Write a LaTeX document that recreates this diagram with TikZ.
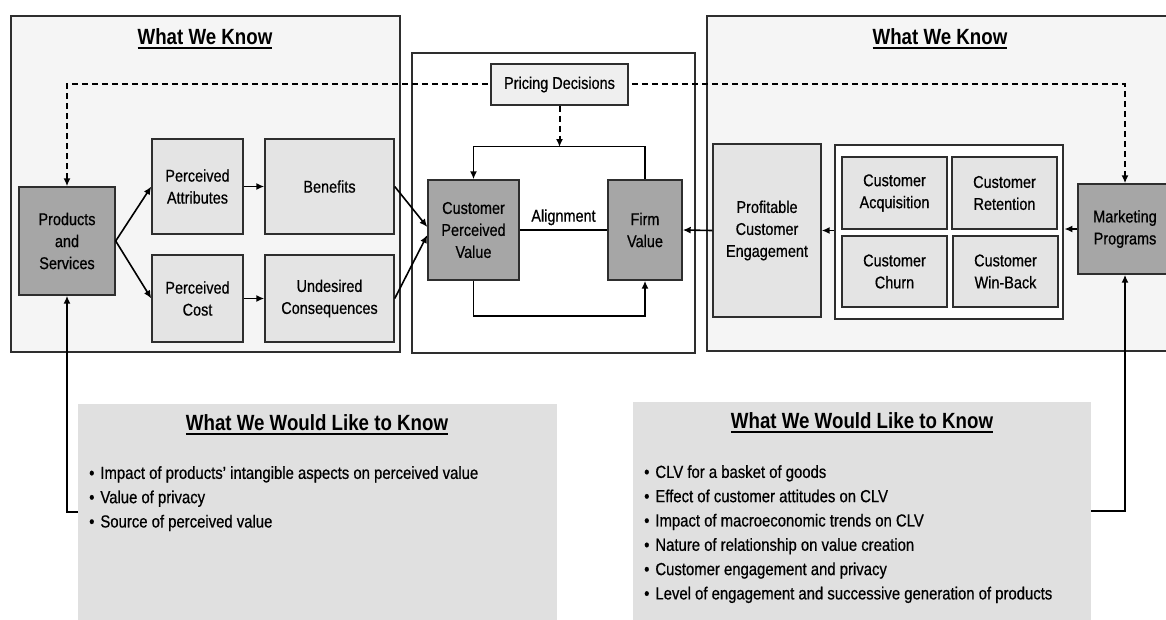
\documentclass[tikz,border=0pt]{standalone}
\usepackage{fontspec}
\setmainfont{Liberation Sans}[FakeStretch=0.85, UprightFeatures={FakeBold=0.6}]
\usetikzlibrary{arrows.meta}
\definecolor{panelfill}{HTML}{F5F5F5}
\definecolor{lightbox}{HTML}{E4E4E4}
\definecolor{darkbox}{HTML}{A6A6A6}
\definecolor{wishfill}{HTML}{E0E0E0}
\definecolor{edge}{HTML}{2E2E2E}
% bold heading with a heavy underline
\newsavebox\headbox
\newcommand\undl[1]{\sbox\headbox{#1}\rlap{\raisebox{-4pt}{\rule{\wd\headbox}{1.8pt}}}\usebox\headbox}
\begin{document}
\begin{tikzpicture}[x=1pt,y=-1pt,
  >={Latex[length=8pt,width=7pt]},
  panel/.style={draw=edge, line width=1.4pt, fill=panelfill, inner sep=0pt},
  frame/.style={draw=edge, line width=2.8pt, fill=white, inner sep=0pt},
  box/.style={draw=edge, line width=1.4pt, align=center, inner sep=0pt,
    font=\fontsize{17}{22}\selectfont},
  lightnode/.style={box, fill=lightbox},
  darknode/.style={box, fill=darkbox},
  wish/.style={fill=wishfill, inner sep=0pt},
  heading/.style={inner sep=0pt, font=\fontsize{22}{26}\selectfont\bfseries},
  listtext/.style={inner sep=0pt, align=left, font=\fontsize{17.5}{24.3}\selectfont},
  arr/.style={->, line width=1.6pt},
  dasharr/.style={line width=2pt, dash pattern=on 6pt off 4pt}
]
\useasboundingbox (0,0) rectangle (1166,619);

% containers
\node[panel, minimum width=389, minimum height=336] (knowL) at (205.5,184) {};
\node[panel, minimum width=468, minimum height=335] (knowR) at (941,183.5) {};
\node[frame, minimum width=283, minimum height=300] (core) at (553.5,203) {};
\node[wish, minimum width=479, minimum height=221] (wishL) at (317.5,514.5) {};
\node[wish, minimum width=458, minimum height=223] (wishR) at (862,513.5) {};

\node[heading] (hL) at (205,39) {\undl{What We Know}};
\node[heading] (hR) at (940,39) {\undl{What We Know}};
\node[heading] (hWL) at (317,425) {\undl{What We Would Like to Know}};
\node[heading] (hWR) at (862,423) {\undl{What We Would Like to Know}};

% nodes
\node[darknode, minimum width=96, minimum height=108] (ps) at (67,241) {Products\\and\\Services};
\node[lightnode, minimum width=91, minimum height=95] (pa) at (197.5,186.5) {Perceived\\Attributes};
\node[lightnode, minimum width=129, minimum height=95] (ben) at (329.5,186.5) {Benefits};
\node[lightnode, minimum width=91, minimum height=87] (pc) at (197.5,298.5) {Perceived\\Cost};
\node[lightnode, minimum width=129, minimum height=87] (uc) at (329.5,298.5) {Undesired\\Consequences};

\node[darknode, minimum width=91, minimum height=100] (cpv) at (473.5,230) {Customer\\Perceived\\Value};
\node[darknode, minimum width=74, minimum height=100] (fv) at (645,230) {Firm\\Value};

\node[lightnode, minimum width=108, minimum height=173] (pce) at (767,230.5) {Profitable\\Customer\\Engagement};
\node[frame, minimum width=228, minimum height=174] (grp) at (949,232) {};
\node[lightnode, minimum width=105, minimum height=72] (acq) at (894.5,193) {Customer\\Acquisition};
\node[lightnode, minimum width=105, minimum height=72] (ret) at (1004.5,193) {Customer\\Retention};
\node[lightnode, minimum width=105, minimum height=71] (churn) at (894.5,271.5) {Customer\\Churn};
\node[lightnode, minimum width=105, minimum height=71] (wb) at (1005.5,271.5) {Customer\\Win-Back};
\node[darknode, minimum width=94, minimum height=90] (mp) at (1125,229) {Marketing\\Programs};

% dashed link between the two outer nodes, under the pricing box
\coordinate (dl) at (67,84);
\coordinate (dr) at (1125,84);
\draw[dasharr, <->] (ps.north) -- (dl) -- (dr) -- (mp.north);
\node[box, fill=lightbox!60!white, minimum width=137, minimum height=41] (pd) at (559.5,84.5) {Pricing Decisions};

% value loop
\coordinate (loopy) at (0,147);
\draw[dasharr, ->] (pd.south) -- (pd.south |- loopy);
\draw[arr] (fv.north) -- ++(0,-33) -| (cpv.north);
\draw[arr] (cpv.south) -- ++(0,35) -| (fv.south);
\draw[line width=1.6pt] (cpv.east) -- node[above=4pt, font=\fontsize{17}{22}\selectfont, inner sep=0pt] (al) {Alignment} (fv.west);

% left flows
\draw[arr] (ps.east) -- (pa.west);
\draw[arr] (ps.east) -- (pc.west);
\draw[arr] (pa.east) -- (ben.west);
\draw[arr] (pc.east) -- (uc.west);
\draw[arr] (ben.east) -- ([yshift=3pt]cpv.west);
\draw[arr] (uc.east) -- ([yshift=-5pt]cpv.west);

% right flows
\draw[arr] (pce.west) -- (fv.east);
\draw[arr] (grp.west |- pce.east) -- (pce.east);
\draw[arr] (mp.west) -- (grp.east |- mp.west);

% links from the wish lists
\coordinate (wlc) at (78,512);
\coordinate (wrc) at (1091,511);
\draw[arr] (wlc) -| (ps.south);
\draw[arr] (wrc) -| (mp.south);

% wish lists
\node[listtext, anchor=north west] (listL) at (89,466) {%
\textbullet\hspace{6pt}Impact of products' intangible aspects on perceived value\\
\textbullet\hspace{6pt}Value of privacy\\
\textbullet\hspace{6pt}Source of perceived value};
\node[listtext, anchor=north west] (listR) at (644,465) {%
\textbullet\hspace{6pt}CLV for a basket of goods\\
\textbullet\hspace{6pt}Effect of customer attitudes on CLV\\
\textbullet\hspace{6pt}Impact of macroeconomic trends on CLV\\
\textbullet\hspace{6pt}Nature of relationship on value creation\\
\textbullet\hspace{6pt}Customer engagement and privacy\\
\textbullet\hspace{6pt}Level of engagement and successive generation of products};
\end{tikzpicture}
\end{document}
